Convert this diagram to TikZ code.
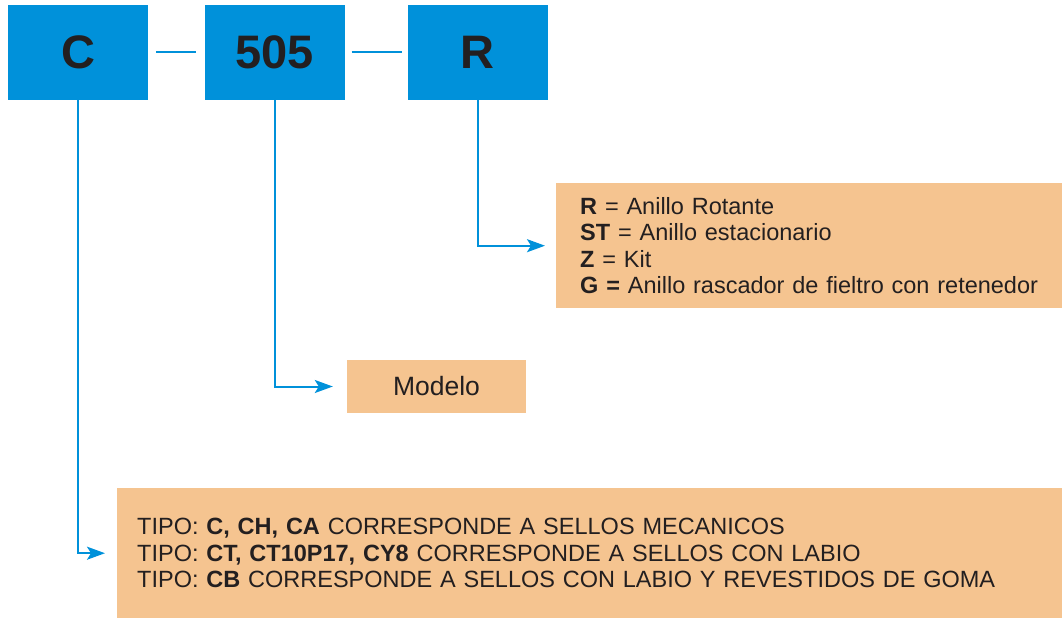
\documentclass[tikz,border=0pt]{standalone}
\usepackage{fontspec}
\setmainfont{Liberation Sans}
\usetikzlibrary{arrows.meta}
\definecolor{codeblue}{RGB}{0,145,218}
\definecolor{descorange}{RGB}{245,196,144}
\definecolor{inkgray}{RGB}{35,31,32}
\tikzset{
  codebox/.style={fill=codeblue, minimum width=140pt, minimum height=95pt, text=inkgray, font=\fontsize{47}{47}\selectfont\bfseries},
  descbox/.style={fill=descorange, text=inkgray, font=\fontsize{23.5}{26.3}\selectfont, align=left},
  link/.style={draw=codeblue, line width=2pt},
  pointer/.style={link, -{Stealth[length=18pt,width=13pt,inset=4pt]}, shorten >=11pt}
}
\begin{document}
\begin{tikzpicture}[x=1pt, y=-1pt]
            \useasboundingbox (0,0) rectangle (1062,618);
            \node[codebox] (tipoC) at (78,52.5) {C};
            \node[codebox] (modelo505) at (274.5,52.5) {505};
            \node[codebox] (anilloR) at (477.5,52.5) {R};
            \node[descbox, anchor=north west, minimum width=506pt, minimum height=125pt, text width=458pt, inner xsep=24pt] (anillos) at (556,183)
              {\textbf{R} = Anillo Rotante\\ \textbf{ST} = Anillo estacionario\\ \textbf{Z} = Kit\\ \textbf{G =} Anillo rascador de fieltro con retenedor};
            \node[descbox, minimum width=179pt, minimum height=53pt, font=\fontsize{26.5}{30}\selectfont] (modelo) at (436.5,386.5) {Modelo};
            \node[descbox, anchor=north west, minimum width=945pt, minimum height=130pt, text width=905pt, inner xsep=20pt] (tipos) at (117,488)
              {TIPO: \textbf{C, CH, CA} CORRESPONDE A SELLOS MECANICOS\\ TIPO: \textbf{CT, CT10P17, CY8} CORRESPONDE A SELLOS CON LABIO\\ TIPO: \textbf{CB} CORRESPONDE A SELLOS CON LABIO Y REVESTIDOS DE GOMA};
            \draw[link, shorten <=8pt, shorten >=8pt] (tipoC.east) -- (modelo505.west);
            \draw[link, shorten <=7pt, shorten >=5pt] (modelo505.east) -- (anilloR.west);
            \draw[pointer] (anilloR.south) |- (anillos.west);
            \draw[pointer, shorten >=14pt] (modelo505.south) |- (modelo.west);
            \draw[pointer, shorten >=12pt] (tipoC.south) |- (tipos.west);
        \end{tikzpicture}
\end{document}
